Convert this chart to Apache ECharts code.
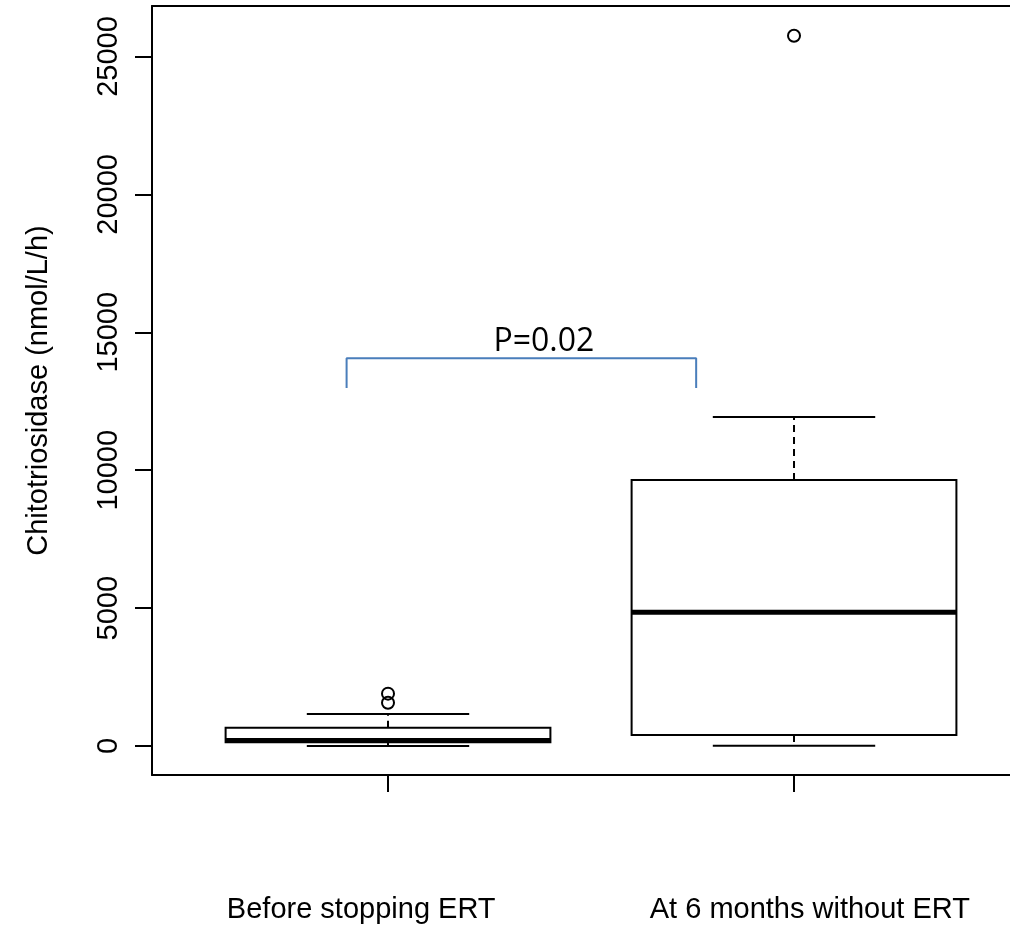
<!DOCTYPE html>
<html>
<head>
<meta charset="utf-8">
<script src="https://cdn.jsdelivr.net/npm/echarts@6/dist/echarts.min.js"></script>
<style>html,body{margin:0;padding:0;background:#fff}#c{width:1010px;height:927px}</style>
</head>
<body>
<div id="c"></div>
<script>
// ---- data ----
const categories = ['Before stopping ERT', 'At 6 months without ERT'];
const catPos = [1, 2];
const mins    = [0, 10];
const q1s     = [140, 400];
const medians = [205, 4850];
const q3s     = [660, 9645];
const maxs    = [1160, 11930];
const outlierGroup = [1, 1, 2];
const outlierValues = [1900, 1570, 25750];
const yTicks = [0, 5000, 10000, 15000, 20000, 25000];
const bracketX = [0.898, 1.759];
const bracketY = [12980, 14057];
const pLabel = 'P=0.02';
const pLabelPos = [1.384, 14670];

const boxData = catPos.map((x, i) => [x, mins[i], q1s[i], medians[i], q3s[i], maxs[i]]);
const outlierData = outlierGroup.map((g, i) => [g, outlierValues[i]]);
const bracketData = [
  [bracketX[0], bracketY[0]], [bracketX[0], bracketY[1]],
  [bracketX[1], bracketY[1]], [bracketX[1], bracketY[0]]
];

const X_MIN = 0.4187, X_MAX = 2.532;

function renderBox(params, api) {
  const x = api.value(0);
  const lo = api.coord([x, api.value(1)]);
  const q1 = api.coord([x, api.value(2)]);
  const med = api.coord([x, api.value(3)]);
  const q3 = api.coord([x, api.value(4)]);
  const hi = api.coord([x, api.value(5)]);
  const bw = api.size([0.8, 0])[0];
  const cw = api.size([0.4, 0])[0];
  const cx = lo[0];
  const solid = { stroke: '#000', lineWidth: 2 };
  const dashed = { stroke: '#000', lineWidth: 2, lineDash: [7, 5] };
  return {
    type: 'group',
    children: [
      { type: 'line', shape: { x1: cx, y1: q3[1], x2: cx, y2: hi[1] }, style: dashed },
      { type: 'line', shape: { x1: cx, y1: q1[1], x2: cx, y2: lo[1] }, style: dashed },
      { type: 'line', shape: { x1: cx - cw / 2, y1: hi[1], x2: cx + cw / 2, y2: hi[1] }, style: solid },
      { type: 'line', shape: { x1: cx - cw / 2, y1: lo[1], x2: cx + cw / 2, y2: lo[1] }, style: solid },
      { type: 'rect', shape: { x: cx - bw / 2, y: q3[1], width: bw, height: q1[1] - q3[1] },
        style: { stroke: '#000', lineWidth: 2, fill: '#fff' } },
      { type: 'line', shape: { x1: cx - bw / 2, y1: med[1], x2: cx + bw / 2, y2: med[1] },
        style: { stroke: '#000', lineWidth: 5 } }
    ]
  };
}

const chart = echarts.init(document.getElementById('c'), null, { renderer: 'canvas' });
chart.setOption({
  animation: false,
  backgroundColor: '#fff',
  grid: { left: 152, top: 6, right: 0, bottom: 152 },
  xAxis: [{
    type: 'value', min: X_MIN, max: X_MAX, position: 'bottom',
    splitLine: { show: false },
    axisLine: { show: true, onZero: false, lineStyle: { color: '#000', width: 2 } },
    axisTick: { show: true, length: 17, customValues: catPos, lineStyle: { color: '#000', width: 2 } },
    axisLabel: {
      show: true, customValues: [0.934, 2.039], margin: 120,
      color: '#000', fontSize: 29, fontFamily: 'Liberation Sans',
      formatter: v => (v < 1.5 ? categories[0] : categories[1])
    }
  }, {
    type: 'value', min: X_MIN, max: X_MAX, position: 'top',
    splitLine: { show: false },
    axisLine: { show: true, onZero: false, lineStyle: { color: '#000', width: 2 } },
    axisTick: { show: false }, axisLabel: { show: false }
  }],
  yAxis: {
    type: 'value', min: -1050, max: 26830,
    name: 'Chitotriosidase (nmol/L/h)', nameLocation: 'middle', nameGap: 99, nameRotate: 90,
    nameTextStyle: { color: '#000', fontSize: 29, fontFamily: 'Liberation Sans' },
    splitLine: { show: false },
    axisLine: { show: true, onZero: false, lineStyle: { color: '#000', width: 2 } },
    axisTick: { show: true, length: 17, customValues: yTicks, lineStyle: { color: '#000', width: 2 } },
    axisLabel: { show: true, customValues: yTicks, rotate: 90, margin: 29, color: '#000', fontSize: 29,
      fontFamily: 'Liberation Sans', formatter: v => String(v) }
  },
  series: [
    { type: 'custom', renderItem: renderBox, data: boxData, encode: { x: 0, y: [1, 2, 3, 4, 5] }, z: 2 },
    { type: 'scatter', data: outlierData, symbol: 'circle', symbolSize: 12,
      itemStyle: { color: 'rgba(0,0,0,0)', borderColor: '#000', borderWidth: 2, opacity: 1 }, z: 3 },
    { type: 'line', data: bracketData, symbol: 'none', lineStyle: { color: '#4A7EBB', width: 2 }, z: 4 },
    { type: 'custom', data: [pLabelPos], z: 5,
      renderItem: (params, api) => {
        const p = api.coord([api.value(0), api.value(1)]);
        return { type: 'text', x: p[0], y: p[1],
          style: { text: pLabel, fill: '#000', font: '32px "Open Sans"', align: 'center', verticalAlign: 'middle' } };
      }
    }
  ]
});
</script>
</body>
</html>
